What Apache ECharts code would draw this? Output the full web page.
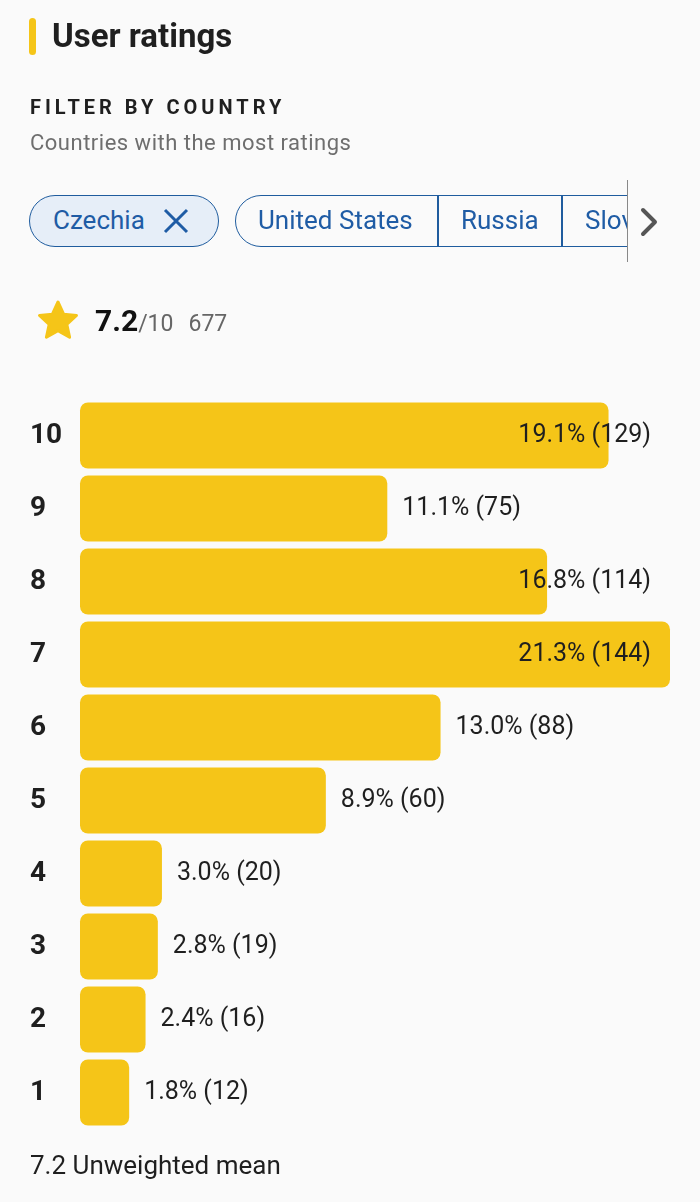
<!DOCTYPE html>
<html>
<head>
<meta charset="utf-8">
<script src="https://cdn.jsdelivr.net/npm/echarts@6/dist/echarts.min.js"></script>
<style>
  html, body { margin: 0; padding: 0; background: #fafafa; }
  body { width: 700px; height: 1202px; position: relative; overflow: hidden;
         font-family: Roboto, 'Noto Sans', sans-serif; color: #1f1f1f; }
  #chart { position: absolute; left: 0; top: 0; width: 700px; height: 1202px; }
  .abs { position: absolute; white-space: nowrap; }
  .accent { left: 29px; top: 18px; width: 7px; height: 37px; border-radius: 4px; background: #f5c518; }
  .title { left: 52px; top: 15px; font-size: 33px; font-weight: 700; line-height: 42px; }
  .filter { left: 30px; top: 94px; font-size: 20px; font-weight: 700; letter-spacing: 4px; line-height: 26px; }
  .sub { left: 30px; top: 130px; font-size: 22px; color: #6e6e6e; letter-spacing: 0.5px; line-height: 26px; }
  .chips { left: 0; top: 180px; width: 627px; height: 82px; overflow: hidden; border-right: 1.5px solid #888; }
  .chip { position: absolute; top: 15px; height: 52px; box-sizing: border-box; border: 1.5px solid #1f5c9e;
          color: #1f5ca5; font-size: 26px; line-height: 49px; }
  .c1 { left: 29px; width: 190px; border-radius: 26px; background: #e6eef8; padding-left: 23px; }
  .c1 svg { position: absolute; left: 133px; top: 12px; }
  .grp { left: 235px; width: 460px; border-radius: 26px 0 0 26px; }
  .grp span { position: absolute; top: 0; }
  .div { position: absolute; top: 0; width: 1.5px; height: 50px; background: #1f5c9e; }
  .chev { left: 639px; top: 207px; }
  .score { left: 95px; top: 304px; font-size: 30px; font-weight: 700; color: #111; line-height: 34px; }
  .score small { font-size: 23px; font-weight: 400; color: #666; }
  .score em { font-style: normal; font-size: 23px; font-weight: 400; color: #666; margin-left: 15px; }
  .mean { left: 30px; top: 1150px; font-size: 26px; color: #1f1f1f; line-height: 30px; }
</style>
</head>
<body>
<div id="chart"></div>

<div class="abs accent"></div>
<div class="abs title">User ratings</div>
<div class="abs filter">FILTER BY COUNTRY</div>
<div class="abs sub">Countries with the most ratings</div>

<div class="abs chips">
  <div class="chip c1">Czechia
    <svg width="26" height="26" viewBox="0 0 26 26"><path d="M2 2 L24 24 M24 2 L2 24" stroke="#1f5ca5" stroke-width="3" fill="none"/></svg>
  </div>
  <div class="chip grp">
    <span style="left:22px">United States</span>
    <div class="div" style="left:201px"></div>
    <span style="left:225px">Russia</span>
    <div class="div" style="left:325px"></div>
    <span style="left:349px">Slovakia</span>
  </div>
</div>
<svg class="abs chev" width="22" height="30" viewBox="0 0 22 30"><path d="M4 3 L16 15 L4 27" stroke="#555" stroke-width="4" fill="none" stroke-linecap="round" stroke-linejoin="round"/></svg>

<svg class="abs" style="left:36px;top:299px" width="44" height="42" viewBox="0 0 44 42">
  <path d="M22 3 L27.6 15.2 L40.5 16.4 L30.8 25.3 L33.6 38.2 L22 31.6 L10.4 38.2 L13.2 25.3 L3.5 16.4 L16.4 15.2 Z"
        fill="#f5c518" stroke="#f5c518" stroke-width="3" stroke-linejoin="round"/>
</svg>
<div class="abs score">7.2<small>/10</small><em>677</em></div>

<div class="abs mean">7.2 Unweighted mean</div>

<script>
  var ratings = ['10', '9', '8', '7', '6', '5', '4', '3', '2', '1']
  var counts  = [129, 75, 114, 144, 88, 60, 20, 19, 16, 12]
  var shares  = ['19.1%', '11.1%', '16.8%', '21.3%', '13.0%', '8.9%', '3.0%', '2.8%', '2.4%', '1.8%']

  var YELLOW = '#f5c518'
  var LABEL_LIMIT = 651

  var chart = echarts.init(document.getElementById('chart'))
  chart.setOption({
    animation: false,
    grid: { left: 80, top: 399, width: 590, height: 730, containLabel: false },
    xAxis: {
      type: 'value', min: 0, max: 144,
      show: false
    },
    yAxis: {
      type: 'category', data: ratings, inverse: true,
      axisLine: { show: false }, axisTick: { show: false },
      axisLabel: {
        align: 'left', margin: 50,
        fontFamily: 'Roboto', fontSize: 28, fontWeight: 'bold', color: '#1f1f1f'
      }
    },
    series: [{
      type: 'bar',
      data: counts,
      barWidth: 66,
      itemStyle: { color: YELLOW, borderRadius: 8 },
      label: {
        show: true, position: 'right', distance: 15,
        fontFamily: 'Roboto', fontSize: 25, color: '#1f1f1f',
        formatter: function (p) { return shares[p.dataIndex] + ' (' + p.value + ')' }
      },
      labelLayout: function (p) {
        var over = p.labelRect.x + p.labelRect.width - LABEL_LIMIT
        return over > 0 ? { dx: -over } : {}
      }
    }]
  })
</script>
</body>
</html>
